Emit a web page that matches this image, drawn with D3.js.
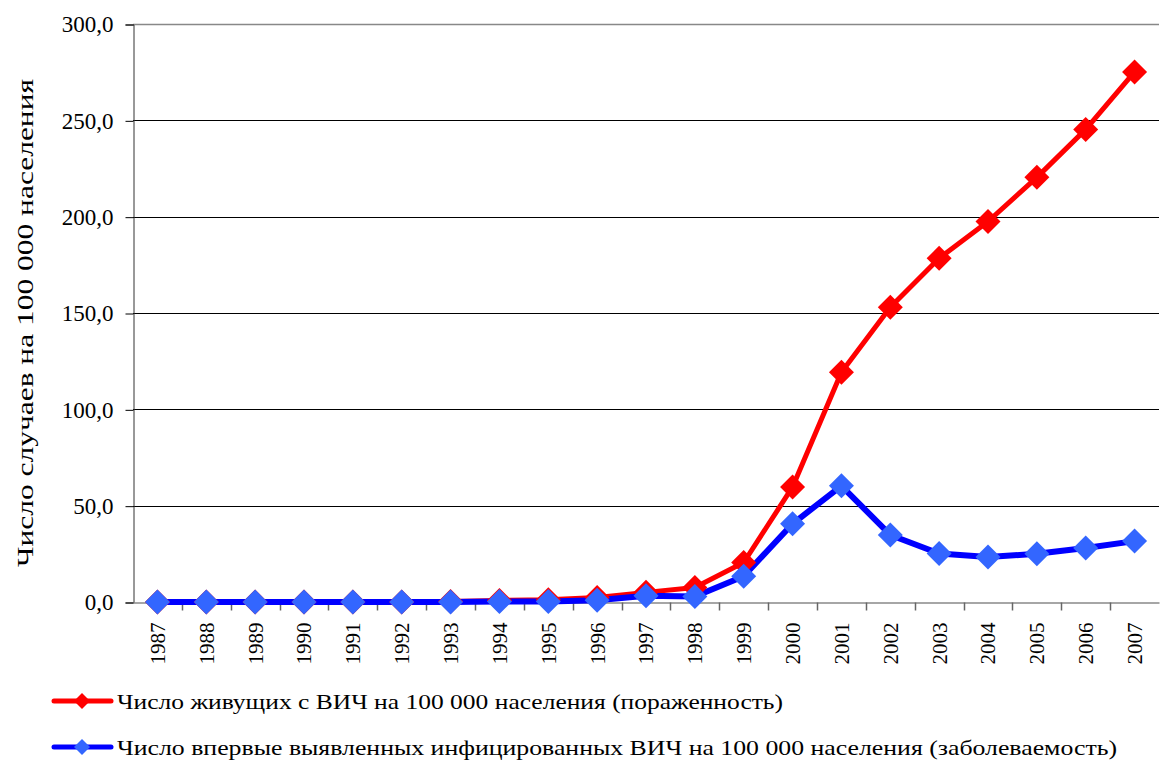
<!DOCTYPE html>
<meta charset="utf-8">
<style>
body { margin: 0; background: #fff; }
svg { display: block; }
svg text { font-family: "Liberation Serif", "Times New Roman", serif; }
</style>
<script src="https://d3js.org/d3.v7.min.js"></script>
<body>
<script>
// data
var years = ["1987","1988","1989","1990","1991","1992","1993","1994","1995","1996",
             "1997","1998","1999","2000","2001","2002","2003","2004","2005","2006","2007"];
var prevalence = [0, 0, 0, 0, 0, 0, 0.2, 0.8, 1.2, 2.3, 5, 7.5, 20.5, 59.7, 119.3, 153, 178.4, 197.5, 220.4, 245.3, 275.1];
var incidence  = [0, 0, 0, 0, 0, 0, 0, 0.2, 0.3, 0.9, 3.3, 2.8, 13.4, 40.6, 60.3, 34.8, 25.2, 23.3, 25, 28, 31.6];
var yTicks = [0, 50, 100, 150, 200, 250, 300];
var seriesNames = [
  "Число живущих с ВИЧ на 100 000 населения (пораженность)",
  "Число впервые выявленных инфицированных ВИЧ на 100 000 населения (заболеваемость)"
];

var W = 1161, H = 760;
var mLeft = 133, mRight = 1159, mTop = 24, mBottom = 602;

var svg = d3.select("body").append("svg").attr("width", W).attr("height", H);

var x = d3.scaleBand().domain(years).range([mLeft, mRight]);
var y = d3.scaleLinear().domain([0, 300]).range([mBottom, mTop]);
var fmt = function(d) { return d3.format(".1f")(d).replace(".", ","); };

// gridlines
svg.append("g")
  .selectAll("line").data(yTicks.filter(function(d) { return d > 0; }))
  .enter().append("line")
  .attr("x1", mLeft).attr("x2", mRight)
  .attr("y1", function(d) { return Math.round(y(d)) + 0.5; })
  .attr("y2", function(d) { return Math.round(y(d)) + 0.5; })
  .attr("stroke", function(d) { return d === 300 ? "#888" : "#000"; })
  .attr("stroke-width", function(d) { return d === 300 ? 1.5 : 1; });

// y axis
var yAxis = svg.append("g").attr("transform", "translate(" + (mLeft + 0.5) + ",0.5)")
  .call(d3.axisLeft(y).tickValues(yTicks).tickFormat(fmt).tickSize(8).tickPadding(12));
yAxis.attr("font-family", null);
yAxis.select(".domain").attr("stroke", "#333");
yAxis.selectAll(".tick line").attr("stroke", "#000");
yAxis.selectAll("text").style("font-size", "23px").attr("fill", "#000");

// x axis
var xAxis = svg.append("g").attr("transform", "translate(0," + (mBottom + 0.5) + ")")
  .call(d3.axisBottom(x).tickSize(0).tickPadding(0));
xAxis.attr("font-family", null);
xAxis.select(".domain").attr("stroke", "#888").attr("stroke-width", 1.5);
xAxis.selectAll(".tick text")
  .style("font-size", "21px").attr("fill", "#000")
  .attr("transform", "rotate(-90)")
  .attr("x", -20).attr("y", 0).attr("dy", "0.35em")
  .style("text-anchor", "end");
// tick marks at band boundaries
xAxis.selectAll(".btick").data(years.slice(1))
  .enter().append("line").attr("class", "btick")
  .attr("x1", function(d) { return Math.round(x(d)) + 0.5; })
  .attr("x2", function(d) { return Math.round(x(d)) + 0.5; })
  .attr("y1", 0).attr("y2", 8)
  .attr("stroke", "#666").attr("stroke-width", 1.5);

// y axis title
svg.append("text")
  .attr("transform", "translate(25," + ((mTop + mBottom) / 2 + 10) + ") rotate(-90)")
  .attr("text-anchor", "middle").attr("dy", "0.35em")
  .style("font-size", "23px")
  .attr("textLength", 488).attr("lengthAdjust", "spacingAndGlyphs")
  .text("Число случаев на 100 000 населения");

var cx = function(d, i) { return x(years[i]) + x.bandwidth() / 2; };
var line = d3.line().x(cx).y(function(d) { return y(d); });
var diamond = function(s) { return "M0," + (-s) + "L" + s + ",0L0," + s + "L" + (-s) + ",0Z"; };

var series = [
  { values: prevalence, line: "#ff0000", marker: "#ff0000", width: 5 },
  { values: incidence, line: "#0000ff", marker: "#3366ff", width: 6 }
];

series.forEach(function(s) {
  svg.append("path").datum(s.values)
    .attr("d", line).attr("fill", "none")
    .attr("stroke", s.line).attr("stroke-width", s.width)
    .attr("stroke-linejoin", "round");
});
series.forEach(function(s) {
  svg.append("g").selectAll("path").data(s.values).enter().append("path")
    .attr("d", diamond(12.5))
    .attr("transform", function(d, i) { return "translate(" + cx(d, i) + "," + y(d) + ")"; })
    .attr("fill", s.marker);
});

// legend
var legendLen = [666, 1000];
var legend = svg.append("g");
series.forEach(function(s, i) {
  var ly = 701 + i * 46;
  legend.append("line").attr("x1", 54).attr("x2", 111).attr("y1", ly).attr("y2", ly)
    .attr("stroke", s.line).attr("stroke-width", 5).attr("stroke-linecap", "round");
  legend.append("path").attr("d", diamond(8)).attr("transform", "translate(82," + ly + ")")
    .attr("fill", s.marker);
  legend.append("text").attr("x", 117).attr("y", ly).attr("dy", "0.35em")
    .style("font-size", "22px")
    .attr("textLength", legendLen[i]).attr("lengthAdjust", "spacingAndGlyphs")
    .text(seriesNames[i]);
});
</script>
</body>
